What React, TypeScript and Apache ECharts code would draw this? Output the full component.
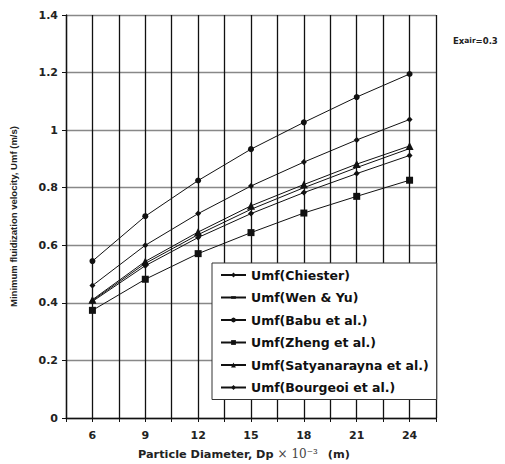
import React, { useEffect, useRef } from "react";
import * as echarts from "echarts";

const diameters = [6, 9, 12, 15, 18, 21, 24];
const chiester = [0.46, 0.6, 0.71, 0.806, 0.889, 0.966, 1.037];
const wenYu = [0.408, 0.537, 0.637, 0.725, 0.8, 0.87, 0.936];
const babu = [0.545, 0.701, 0.825, 0.934, 1.027, 1.115, 1.195];
const zheng = [0.374, 0.482, 0.571, 0.644, 0.712, 0.77, 0.826];
const satyanarayna = [0.411, 0.544, 0.646, 0.737, 0.811, 0.882, 0.945];
const bourgeoi = [0.405, 0.529, 0.627, 0.71, 0.783, 0.849, 0.912];

const seriesNames = [
  "Umf(Chiester)",
  "Umf(Wen & Yu)",
  "Umf(Babu et al.)",
  "Umf(Zheng et al.)",
  "Umf(Satyanarayna et al.)",
  "Umf(Bourgeoi et al.)",
];

const FONT = "'Liberation Sans', Arial, sans-serif";
const WIDE = "'DejaVu Sans', Verdana, sans-serif";

export default function App() {
  const ref = useRef<HTMLDivElement>(null);
  useEffect(() => {
    document.body.style.margin = "0";
    if (!ref.current) return;
    const chart = echarts.init(ref.current, null, { renderer: "svg" });
    const pair = (ys: number[]) => diameters.map((x, i) => [x, ys[i]]);
    const mk = (name: string, ys: number[], symbol: string, size: number, show = true) => ({
      name,
      type: "line",
      data: pair(ys),
      symbol,
      symbolSize: size,
      showSymbol: show,
      itemStyle: { color: "#111" },
      lineStyle: { color: "#111", width: 1 },
      z: 3,
    });
    chart.setOption({
      animation: false,
      backgroundColor: "#fff",
      grid: { left: 65, top: 15, width: 371, height: 403, containLabel: false },
      xAxis: {
        type: "value",
        min: 4.5,
        max: 25.5,
        interval: 1.5,
        axisLine: { show: true, lineStyle: { color: "#111", width: 1.3 } },
        axisTick: { show: true, length: 4, lineStyle: { color: "#111" } },
        splitLine: { show: true, lineStyle: { color: "#111", width: 1.3 } },
        axisLabel: {
          margin: 12,
          fontFamily: WIDE,
          fontWeight: "bold",
          fontSize: 11,
          color: "#222",
          formatter: (v: number) => (Math.abs(v % 3) < 1e-6 ? String(v) : ""),
        },
      },
      yAxis: {
        type: "value",
        min: 0,
        max: 1.4,
        interval: 0.2,
        name: "Minimum fluidization velocity, Umf (m/s)",
        nameLocation: "middle",
        nameGap: 48,
        nameTextStyle: { fontFamily: FONT, fontWeight: "bold", fontSize: 9.5, color: "#222" },
        axisLine: { show: true, lineStyle: { color: "#111", width: 1.3 } },
        axisTick: { show: true, length: 4, lineStyle: { color: "#111" } },
        splitLine: { show: true, lineStyle: { color: "#888", width: 1.3 } },
        axisLabel: {
          margin: 8,
          fontFamily: WIDE,
          fontWeight: "bold",
          fontSize: 11,
          color: "#222",
        },
      },
      legend: {
        orient: "vertical",
        left: 212,
        top: 263,
        data: seriesNames.map((n, i) =>
          i === 1 ? { name: n, itemStyle: { borderWidth: 2.5, borderColor: "#111" } } : { name: n }
        ),
        backgroundColor: "#fff",
        borderColor: "#333",
        borderWidth: 1,
        padding: [5, 8, 5, 8],
        itemWidth: 25,
        itemHeight: 6,
        itemGap: 8.5,
        textStyle: { fontFamily: WIDE, fontWeight: "bold", fontSize: 12.5, color: "#111", lineHeight: 14 },
        z: 10,
      },
      graphic: [
        {
          type: "text",
          left: 138,
          top: 448,
          style: {
            text: "{a|Particle Diameter, Dp}{b|× 10⁻³}{a| (m)}",
            rich: {
              a: { fontFamily: WIDE, fontWeight: "bold", fontSize: 11.3, fill: "#222" },
              b: { fontFamily: "'DejaVu Serif', serif", fontSize: 12, fill: "#444", padding: [0, 6, 0, 4] },
            },
          },
        },
        {
          type: "text",
          left: 453,
          top: 36,
          style: {
            text: "{a|Ex}{s|air}{a|=0.3}",
            rich: {
              a: { fontFamily: WIDE, fontWeight: "bold", fontSize: 8.5, fill: "#222" },
              s: { fontFamily: WIDE, fontWeight: "bold", fontSize: 7.5, fill: "#222" },
            },
          },
        },
      ],
      series: [
        mk(seriesNames[0], chiester, "diamond", 6),
        mk(seriesNames[1], wenYu, "line", 0, false),
        mk(seriesNames[2], babu, "circle", 6),
        mk(seriesNames[3], zheng, "rect", 7),
        mk(seriesNames[4], satyanarayna, "triangle", 8),
        mk(seriesNames[5], bourgeoi, "diamond", 6),
      ],
    });
    return () => chart.dispose();
  }, []);
  return <div ref={ref} style={{ width: 505, height: 464 }} />;
}
